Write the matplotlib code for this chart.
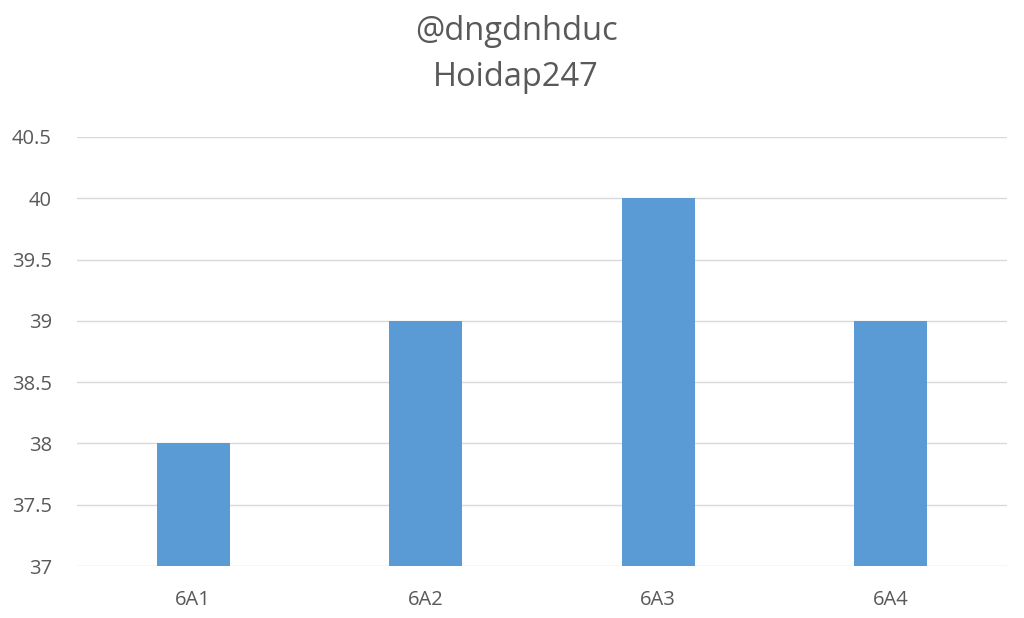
import matplotlib.pyplot as plt

plt.rcParams['font.family'] = ['Open Sans', 'DejaVu Sans']

classes = ['6A1', '6A2', '6A3', '6A4']
values = [38, 39, 40, 39]
y_ticks = [37, 37.5, 38, 38.5, 39, 39.5, 40, 40.5]
y_labels = ['37', '37.5', '38', '38.5', '39', '39.5', '40', '40.5']

text_color = '#595959'
grid_color = '#d9d9d9'

fig = plt.figure(figsize=(10.24, 6.18), dpi=100)
ax = fig.add_axes([77 / 1024, 1 - 566 / 618, 930 / 1024, 429 / 618])

x = range(len(classes))
ax.bar(x, [v - 37 for v in values], bottom=37, width=0.314, color='#5b9bd5', zorder=3)

ax.set_xlim(-0.5, len(classes) - 0.5)
ax.set_ylim(37, 40.5)
ax.set_yticks(y_ticks)
ax.set_yticklabels(y_labels)
ax.set_xticks(list(x))
ax.set_xticklabels(classes)
ax.tick_params(axis='both', length=0, colors=text_color, labelsize=14.5)
ax.tick_params(axis='y', pad=18)
ax.tick_params(axis='x', pad=17)
ax.grid(axis='y', color=grid_color, linewidth=1, zorder=0)
for s in ax.spines.values():
    s.set_visible(False)

fig.text(0.504, 1 - 31 / 618, '@dngdnhduc', ha='center', va='center', fontsize=23.5, color=text_color)
fig.text(0.504, 1 - 77 / 618, 'Hoidap247', ha='center', va='center', fontsize=23.5, color=text_color)
# cut-off axis title at left edge
fig.text(-0.006, 1 - 310 / 618, 'o', ha='center', va='center', fontsize=14, color='#8c8c8c')

fig.savefig('out.png', dpi=100)
